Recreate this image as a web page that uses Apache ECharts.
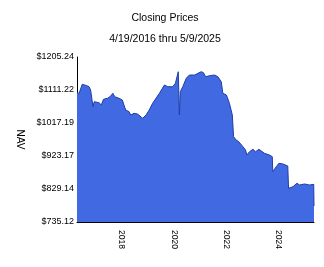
<!DOCTYPE html>
<html>
<head>
<meta charset="utf-8">
<script src="https://cdn.jsdelivr.net/npm/echarts@6/dist/echarts.min.js"></script>
<style>html,body{margin:0;padding:0;background:#fff}#c{width:324px;height:267px}</style>
</head>
<body>
<div id="c"></div>
<script>
var dates = ['2016-04-19','2016-05-18','2016-07-01','2016-08-18','2016-10-04','2016-10-26','2016-11-28',
'2016-12-15','2017-01-08','2017-02-20','2017-03-25','2017-04-23','2017-06-17','2017-07-23','2017-09-02','2017-09-27','2017-11-28',
'2018-01-11','2018-02-27','2018-04-16','2018-05-08','2018-06-24','2018-08-11','2018-09-05','2018-10-23','2018-12-09',
'2019-01-22','2019-03-10','2019-06-13','2019-08-22','2019-10-08','2019-12-16',
'2020-01-22','2020-03-02','2020-03-18','2020-03-30','2020-05-04','2020-06-21','2020-08-04','2020-10-16','2020-11-07',
'2021-01-15','2021-02-17','2021-03-18','2021-05-12','2021-07-20','2021-09-06','2021-10-23','2021-11-14',
'2022-01-03','2022-02-14','2022-03-26','2022-04-13','2022-05-19','2022-06-24','2022-07-13','2022-08-22','2022-09-27','2022-10-15','2022-11-21',
'2023-01-08','2023-02-14','2023-04-02','2023-06-18','2023-08-26','2023-10-05','2023-10-12','2023-11-29',
'2024-01-05','2024-03-01','2024-05-08','2024-05-19','2024-07-20','2024-09-13','2024-10-19','2024-12-28',
'2025-03-07','2025-05-05','2025-05-09'];
var navValues = [1103.5,1101.8,1127.4,1124.6,1120.6,1111.2,1063.6,
1078.0,1073.3,1075.0,1068.5,1084.7,1087.5,1092.1,1101.8,1092.1,1087.5,
1082.7,1054.2,1049.4,1040.0,1044.8,1042.8,1040.0,1030.6,1040.0,
1054.2,1073.3,1101.8,1125.4,1120.6,1120.6,
1130.3,1163.3,1040.0,1106.3,1120.6,1144.5,1153.9,1153.9,1158.8,
1163.3,1160.5,1149.1,1151.9,1153.9,1149.1,1134.8,1101.8,
1097.0,1073.3,1040.0,978.1,968.7,963.9,968.7,949.6,940.2,926.0,935.4,
942.2,935.4,942.2,930.8,926.0,921.2,878.4,892.7,
902.4,900.4,894.7,831.1,835.7,845.4,840.5,843.4,
840.5,842.5,780.7];
var yTicks = [735.12,829.14,923.17,1017.19,1111.22,1205.24];
var xTickYears = [2018,2020,2022,2024];
var startDate = '2016-04-19', endDate = '2025-05-09';

function ts(s){var p=s.split('-');return Date.UTC(+p[0],+p[1]-1,+p[2]);}
var chart = echarts.init(document.getElementById('c'), null, {renderer:'canvas'});
var seriesData = dates.map(function(d,i){return [ts(d), navValues[i]];});
var font = 'Liberation Sans, Arial, sans-serif';
chart.setOption({
  animation:false,
  backgroundColor:'#fff',
  title:[
    {text:'Closing Prices', left:160, top:8, textAlign:'center', textStyle:{fontFamily:font,fontSize:10.5,fontWeight:'normal',color:'#000'}},
    {text:'4/19/2016 thru 5/9/2025', left:160, top:29, textAlign:'center', textStyle:{fontFamily:font,fontSize:10.5,fontWeight:'normal',color:'#000'}}
  ],
  grid:{left:77, right:10, top:57, bottom:45, containLabel:false},
  xAxis:{
    type:'value', min:ts(startDate), max:ts(endDate),
    axisLine:{lineStyle:{color:'#000',width:1}},
    axisTick:{show:false}, splitLine:{show:false},
    axisLabel:{
      customValues: xTickYears.map(function(y){return Date.UTC(y,0,1);}),
      formatter:function(v){return String(new Date(v).getUTCFullYear());},
      rotate:-90, margin:8, fontFamily:font, fontSize:8.5, color:'#000'
    }
  },
  yAxis:{
    type:'value', min:yTicks[0], max:yTicks[yTicks.length-1],
    name:'NAV', nameLocation:'middle', nameRotate:-90, nameGap:52,
    nameTextStyle:{fontFamily:font,fontSize:10,color:'#000'},
    axisLine:{show:true,lineStyle:{color:'#000',width:1}},
    axisTick:{show:false}, splitLine:{show:false},
    axisLabel:{
      customValues: yTicks,
      formatter:function(v){return '$'+v.toFixed(2);},
      margin:3, fontFamily:font, fontSize:9, color:'#000'
    }
  },
  series:[{
    type:'line', data:seriesData, showSymbol:false, symbol:'none',
    lineStyle:{color:'#1f3ea8',width:1},
    areaStyle:{color:'#4169e1',opacity:1},
    z:1
  }]
});
</script>
</body>
</html>
